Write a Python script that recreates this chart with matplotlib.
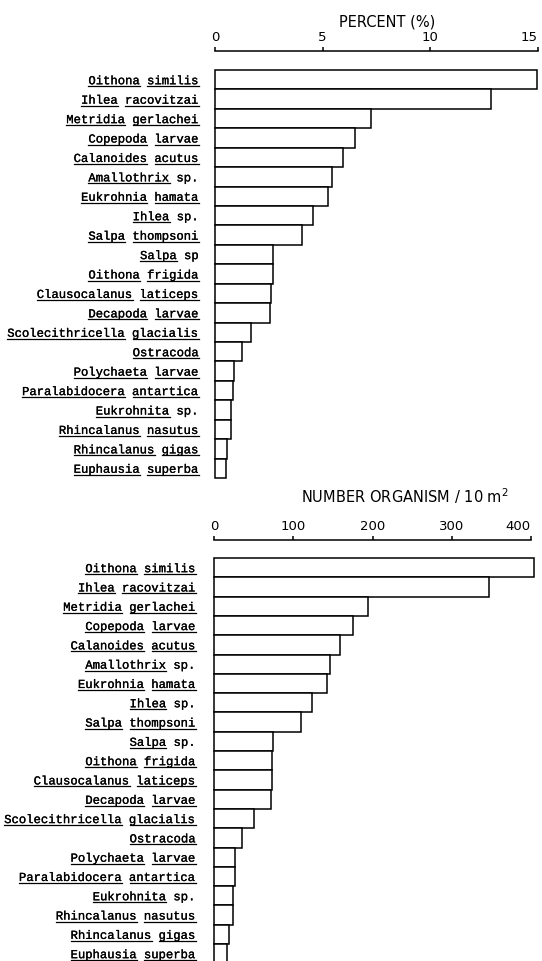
import numpy as np
import matplotlib
matplotlib.use('Agg')
import matplotlib.pyplot as plt
import matplotlib.patheffects as pe
from matplotlib.lines import Line2D

# Du lieu doc tu hinh
labels_pct = ['Oithona similis', 'Ihlea racovitzai', 'Metridia gerlachei',
              'Copepoda larvae', 'Calanoides acutus', 'Amallothrix sp.',
              'Eukrohnia hamata', 'Ihlea sp.', 'Salpa thompsoni', 'Salpa sp',
              'Oithona frigida', 'Clausocalanus laticeps', 'Decapoda larvae',
              'Scolecithricella glacialis', 'Ostracoda', 'Polychaeta larvae',
              'Paralabidocera antartica', 'Eukrohnita sp.', 'Rhincalanus nasutus',
              'Rhincalanus gigas', 'Euphausia superba']
labels_num = labels_pct[:9] + ['Salpa sp.'] + labels_pct[10:]

percent = [14.95, 12.8, 7.24, 6.48, 5.95, 5.44, 5.23, 4.53, 4.02, 2.70,
           2.68, 2.62, 2.54, 1.67, 1.25, 0.87, 0.84, 0.76, 0.72, 0.56, 0.51]
number = [404, 347, 194, 176, 159, 146, 142, 124, 110, 74,
          73, 73, 72, 50, 35, 27, 26, 24.5, 23.5, 19.5, 16]

pct_ticks = [0, 5, 10, 15]
num_ticks = [0, 100, 200, 300, 400]

W, H = 542, 962
fig = plt.figure(figsize=(W / 100, H / 100), dpi=100)

def px_axes(x0, x1, ytop, ybot):
    return fig.add_axes([x0 / W, 1 - ybot / H, (x1 - x0) / W, (ybot - ytop) / H])

def style_axis(ax, vals, labels, ticks, xmax, ylim, pad):
    y = np.arange(len(vals))
    ax.barh(y, vals, height=1.0, color='white', edgecolor='black',
            linewidth=1.1, clip_on=False)
    ax.set_xlim(0, xmax)
    ax.set_ylim(*ylim)
    for s in ['left', 'right', 'bottom']:
        ax.spines[s].set_visible(False)
    ax.spines['top'].set_linewidth(1.1)
    ax.xaxis.tick_top()
    ax.set_xticks(ticks)
    ax.set_xticklabels([str(t) for t in ticks], fontsize=9.5, family='DejaVu Sans')
    ax.get_xticklabels()[-1].set_ha('right')
    ax.tick_params(axis='x', direction='out', length=3, width=1.1, pad=3)
    ax.set_yticks(y)
    ax.set_yticklabels(labels, family='Liberation Mono', fontsize=8.8)
    for tl in ax.get_yticklabels():
        tl.set_path_effects([pe.withStroke(linewidth=0.2, foreground='black')])
    ax.tick_params(axis='y', length=0, pad=pad)
    ax.set_facecolor('none')

# bieu do phan tram
ax1 = px_axes(215, 538, 52, 479)
style_axis(ax1, percent, labels_pct, pct_ticks, 15, (20.5, -1.48), 11.5)
fig.text(387 / W, 1 - 22 / H, 'PERCENT (%)', ha='center', va='center',
         fontsize=10.5, family='DejaVu Sans')

# bieu do so luong
ax2 = px_axes(214, 531, 541, 962)
style_axis(ax2, number, labels_num, num_ticks, 400, (20.38, -1.433), 13)
fig.text(405 / W, 1 - 496 / H, 'NUMBER ORGANISM / 10 m$^2$', ha='center',
         va='center', fontsize=10.5, family='DejaVu Sans')

# gach chan ten loai (tru "sp")
fig.canvas.draw()
renderer = fig.canvas.get_renderer()
inv = fig.transFigure.inverted()
for ax in [ax1, ax2]:
    for tl in ax.get_yticklabels():
        txt = tl.get_text()
        bb = tl.get_window_extent(renderer)
        adv = bb.width / len(txt)
        x_start = bb.x0
        yline = bb.y0 + 1.0
        i = 0
        for word in txt.split(' '):
            if word not in ('sp', 'sp.'):
                xa = x_start + i * adv
                xb = x_start + (i + len(word)) * adv
                p0 = inv.transform((xa, yline))
                p1 = inv.transform((xb, yline))
                fig.add_artist(Line2D([p0[0], p1[0]], [p0[1], p1[1]],
                                      color='black', linewidth=0.9))
            i += len(word) + 1

fig.savefig('out.png', dpi=100)
